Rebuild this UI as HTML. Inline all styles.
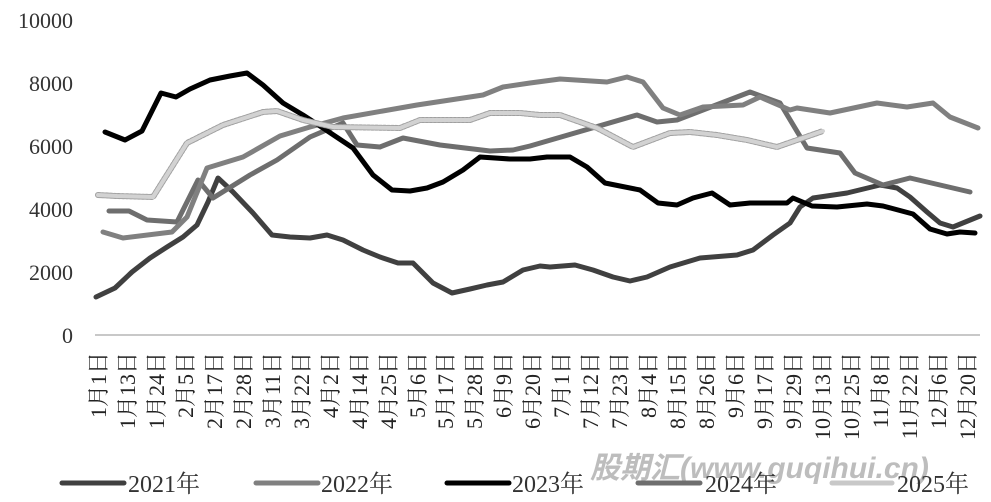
<!DOCTYPE html>
<html><head><meta charset="utf-8"><style>
html,body{margin:0;padding:0;background:#fff;}
svg{display:block;}
text{font-family:"Liberation Serif","Noto Serif CJK SC",serif;}
</style></head><body>
<svg width="991" height="502" viewBox="0 0 991 502" xmlns="http://www.w3.org/2000/svg">
<g font-size="22" fill="#333" text-anchor="end">
<text x="73" y="28">10000</text>
<text x="73" y="91">8000</text>
<text x="73" y="154">6000</text>
<text x="73" y="217">4000</text>
<text x="73" y="280">2000</text>
<text x="73" y="343">0</text>
</g>
<line x1="95" y1="335" x2="980" y2="335" stroke="#c8c8c8" stroke-width="2"/>
<g fill="none" stroke-linejoin="round" stroke-linecap="round" stroke-width="5">
<polyline stroke="#404040" points="96,297 115,288 132,272 150,258 167,247 183,237 197,225 208,202 218,178 233,192 253,213 272,235 290,237 310,238 327,235 343,240 363,250 380,257 398,263 413,263 433,283 452,293 470,289 487,285 503,282 523,270 540,266 550,267 575,265 593,270 613,277 630,281 647,277 670,267 700,258 737,255 753,250 773,235 790,223 800,207 813,198 847,193 880,185 897,188 910,197 927,212 940,223 953,227 980,216"/>
<polyline stroke="#6e6e6e" points="109,211 129,211 147,220 177,222 198,180 213,198 250,175 277,160 310,137 343,123 357,145 380,147 403,138 440,145 490,151 513,150 530,146 637,115 657,122 677,120 703,110 750,92 780,103 807,148 840,153 855,173 883,185 910,178 970,192"/>
<polyline stroke="#808080" points="103,232 123,238 172,232 187,217 207,168 243,157 280,136 310,127 343,118 417,105 483,95 503,87 530,83 560,79 607,82 627,77 643,82 663,108 680,115 703,107 743,105 760,97 790,110 797,108 830,113 877,103 907,107 933,103 950,117 978,128"/>
<polyline stroke="#000" points="105,132 125,140 142,131 161,93 176,97 190,89 210,80 230,76 247,73 263,85 283,103 303,115 323,128 353,148 373,175 392,190 410,191 427,188 443,182 463,170 480,157 510,159 530,159 547,157 570,157 587,167 605,183 620,186 640,190 658,203 677,205 693,198 712,193 730,205 750,203 787,203 793,198 812,206 837,207 867,204 883,206 913,214 930,229 947,234 960,232 975,233"/>
<polyline stroke="#a0a0a0" stroke-width="6" stroke-dasharray="2,2" points="98,195 117,196 153,197 187,143 223,125 263,112 277,111 303,120 333,127 400,128 420,120 470,120 490,113 520,113 540,115 560,115 597,128 633,147 670,133 690,132 717,135 747,140 777,147 823,131"/>
<polyline stroke="#d2d2d2" stroke-width="4" points="98,195 117,196 153,197 187,143 223,125 263,112 277,111 303,120 333,127 400,128 420,120 470,120 490,113 520,113 540,115 560,115 597,128 633,147 670,133 690,132 717,135 747,140 777,147 823,131"/>
</g>
<g font-size="22" fill="#222" text-anchor="end">
<text transform="translate(106,352) rotate(-90)">1月1日</text>
<text transform="translate(135,352) rotate(-90)">1月13日</text>
<text transform="translate(164,352) rotate(-90)">1月24日</text>
<text transform="translate(193,352) rotate(-90)">2月5日</text>
<text transform="translate(222,352) rotate(-90)">2月17日</text>
<text transform="translate(251,352) rotate(-90)">2月28日</text>
<text transform="translate(280,352) rotate(-90)">3月11日</text>
<text transform="translate(309,352) rotate(-90)">3月22日</text>
<text transform="translate(338,352) rotate(-90)">4月2日</text>
<text transform="translate(367,352) rotate(-90)">4月14日</text>
<text transform="translate(396,352) rotate(-90)">4月25日</text>
<text transform="translate(425,352) rotate(-90)">5月6日</text>
<text transform="translate(453,352) rotate(-90)">5月17日</text>
<text transform="translate(482,352) rotate(-90)">5月28日</text>
<text transform="translate(511,352) rotate(-90)">6月9日</text>
<text transform="translate(540,352) rotate(-90)">6月20日</text>
<text transform="translate(569,352) rotate(-90)">7月1日</text>
<text transform="translate(598,352) rotate(-90)">7月12日</text>
<text transform="translate(627,352) rotate(-90)">7月23日</text>
<text transform="translate(656,352) rotate(-90)">8月4日</text>
<text transform="translate(685,352) rotate(-90)">8月15日</text>
<text transform="translate(714,352) rotate(-90)">8月26日</text>
<text transform="translate(743,352) rotate(-90)">9月6日</text>
<text transform="translate(772,352) rotate(-90)">9月17日</text>
<text transform="translate(801,352) rotate(-90)">9月29日</text>
<text transform="translate(830,352) rotate(-90)">10月13日</text>
<text transform="translate(859,352) rotate(-90)">10月25日</text>
<text transform="translate(888,352) rotate(-90)">11月8日</text>
<text transform="translate(917,352) rotate(-90)">11月22日</text>
<text transform="translate(946,352) rotate(-90)">12月6日</text>
<text transform="translate(975,352) rotate(-90)">12月20日</text>
</g>
<text x="590" y="478" font-size="30" font-weight="bold" font-style="italic" fill="#bdbdbd" style="font-family:'Liberation Sans','Noto Sans CJK SC',sans-serif">股期汇(www.guqihui.cn)</text>
<g stroke-width="5" stroke-linecap="round">
<line x1="62" y1="483" x2="124" y2="483" stroke="#404040"/>
<line x1="256" y1="483" x2="318" y2="483" stroke="#808080"/>
<line x1="447" y1="483" x2="509" y2="483" stroke="#000"/>
<line x1="638" y1="483" x2="700" y2="483" stroke="#6e6e6e"/>
<line x1="832" y1="483" x2="892" y2="483" stroke="#c8c8c8"/>
</g>
<g font-size="24" fill="#333">
<text x="128" y="492">2021年</text>
<text x="321" y="492">2022年</text>
<text x="512" y="492">2023年</text>
<text x="705" y="492">2024年</text>
<text x="897" y="492">2025年</text>
</g>
</svg>
</body></html>
